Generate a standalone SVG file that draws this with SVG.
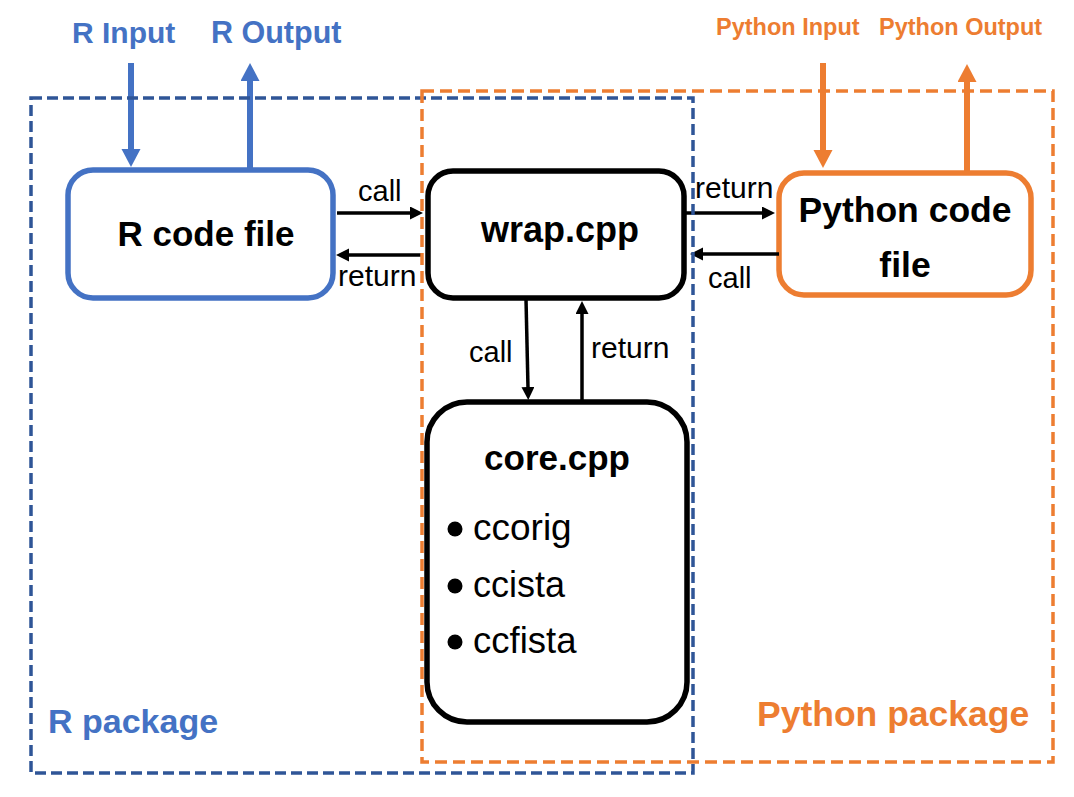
<svg xmlns="http://www.w3.org/2000/svg" width="1074" height="797" viewBox="0 0 1074 797">
<defs>
<style>
.t{font-family:"Liberation Sans",Arial,sans-serif}
.b{font-weight:bold}
.blue{fill:#4472C4}
.orange{fill:#ED7D31}
.blk{fill:#000}
.node{fill:#fff;stroke-width:5.5}
.conn{fill:none;stroke:#000;stroke-width:3.5}
.fat{fill:none;stroke-width:6}
.dash{fill:none;stroke-width:3.5}
</style>
<marker id="ah" markerUnits="userSpaceOnUse" markerWidth="14" markerHeight="14" refX="1" refY="6.5" orient="auto">
<path d="M0,0 L13,6.5 L0,13 z" fill="#000"/>
</marker>
<marker id="ahb" markerUnits="userSpaceOnUse" markerWidth="20" markerHeight="20" refX="1" refY="9.5" orient="auto">
<path d="M0,0 L18,9.5 L0,19 z" fill="#4472C4"/>
</marker>
<marker id="aho" markerUnits="userSpaceOnUse" markerWidth="20" markerHeight="20" refX="1" refY="9.5" orient="auto">
<path d="M0,0 L18,9.5 L0,19 z" fill="#ED7D31"/>
</marker>
</defs>
<rect width="1074" height="797" fill="#fff"/>

<g id="r-code-file">
<rect class="node" x="68" y="170" width="265" height="128" rx="25" stroke="#4472C4"/>
<text class="t b blk" x="206" y="246" font-size="35" text-anchor="middle">R code file</text>
</g>

<g id="wrap-cpp">
<rect class="node" x="428" y="171" width="256" height="127" rx="25" stroke="#000"/>
<text class="t b blk" x="560" y="242" font-size="36" text-anchor="middle">wrap.cpp</text>
</g>

<g id="python-code-file">
<rect class="node" x="779" y="173" width="252" height="122" rx="25" stroke="#ED7D31"/>
<text class="t b blk" x="905" y="222" font-size="35.5" text-anchor="middle">Python code</text>
<text class="t b blk" x="905" y="277" font-size="35.5" text-anchor="middle">file</text>
</g>

<g id="core-cpp">
<rect class="node" x="427" y="402" width="260" height="320" rx="40" stroke="#000"/>
<text class="t b blk" x="557" y="470" font-size="35" text-anchor="middle">core.cpp</text>
<circle cx="455" cy="529" r="7.5" fill="#000"/>
<circle cx="455" cy="586" r="7.5" fill="#000"/>
<circle cx="455" cy="642" r="7.5" fill="#000"/>
<text class="t blk" x="473" y="540" font-size="37">ccorig</text>
<text class="t blk" x="473" y="597" font-size="36">ccista</text>
<text class="t blk" x="473" y="653" font-size="36.5">ccfista</text>
</g>

<g id="connectors">
<line class="fat" stroke="#4472C4" x1="131" y1="63" x2="131" y2="150" marker-end="url(#ahb)"/>
<line class="fat" stroke="#4472C4" x1="250" y1="168" x2="250" y2="80" marker-end="url(#ahb)"/>
<line class="fat" stroke="#ED7D31" x1="823" y1="63" x2="823" y2="151" marker-end="url(#aho)"/>
<line class="fat" stroke="#ED7D31" x1="967" y1="171" x2="967" y2="81" marker-end="url(#aho)"/>

<line class="conn" x1="337" y1="213" x2="411" y2="213" marker-end="url(#ah)"/>
<line class="conn" x1="422" y1="255" x2="348" y2="255" marker-end="url(#ah)"/>
<line class="conn" x1="686" y1="213" x2="763" y2="213" marker-end="url(#ah)"/>
<line class="conn" x1="779" y1="254" x2="702" y2="254" marker-end="url(#ah)"/>
<line class="conn" x1="526" y1="299" x2="528" y2="388" marker-end="url(#ah)"/>
<line class="conn" x1="582" y1="400" x2="582" y2="313" marker-end="url(#ah)"/>

<text class="t blk" x="358" y="201" font-size="29">call</text>
<text class="t blk" x="338" y="286" font-size="30">return</text>
<text class="t blk" x="695" y="198" font-size="30">return</text>
<text class="t blk" x="708" y="288" font-size="29">call</text>
<text class="t blk" x="469" y="362" font-size="29">call</text>
<text class="t blk" x="591" y="358" font-size="30">return</text>
</g>

<g id="r-package">
<rect class="dash" x="31" y="98" width="662" height="675" stroke="#2F5597" stroke-dasharray="11 5"/>
<text class="t b blue" x="48" y="733" font-size="34">R package</text>
<text class="t b blue" x="72" y="43" font-size="30">R Input</text>
<text class="t b blue" x="211" y="43" font-size="30.5">R Output</text>
</g>

<g id="python-package">
<rect class="dash" x="422" y="91" width="631" height="671" stroke="#ED7D31" stroke-dasharray="12 6"/>
<text class="t b orange" x="757" y="726" font-size="35.5">Python package</text>
<text class="t b orange" x="716" y="35" font-size="23.5">Python Input</text>
<text class="t b orange" x="879" y="35" font-size="23.5">Python Output</text>
</g>
</svg>
